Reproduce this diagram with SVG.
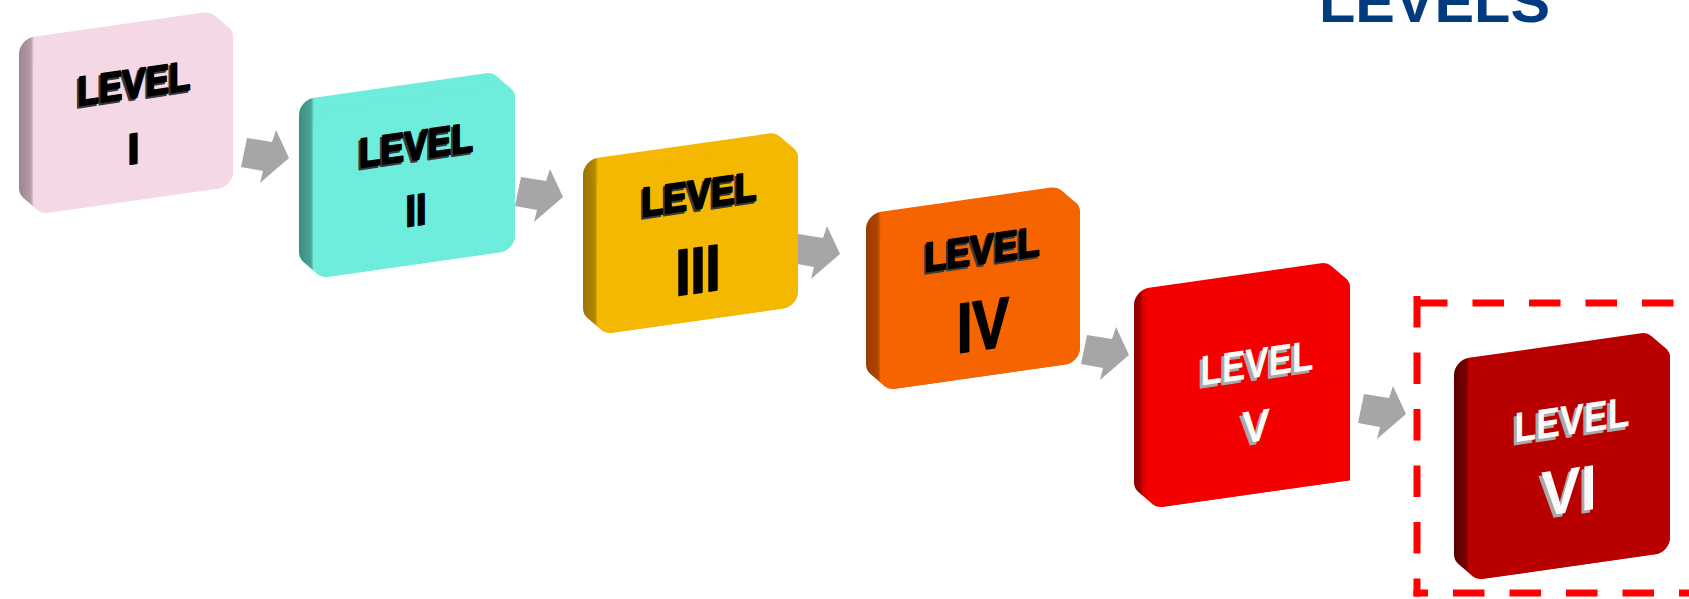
<svg xmlns="http://www.w3.org/2000/svg" xmlns:xlink="http://www.w3.org/1999/xlink" width="1689" height="599" viewBox="0 0 1689 599">
<style>
.t{font-family:"Liberation Sans",Arial,sans-serif;font-weight:bold;text-anchor:middle}
.bk{fill:#000;stroke:#000;stroke-width:2;stroke-linejoin:round}
.bks{fill:#3a3a3a;stroke:#3a3a3a;stroke-width:2;stroke-linejoin:round}
.wt{fill:#fafafa}
.wts{fill:#a9a9a9}
.arr{fill:#a6a6a6}
.dash{fill:none;stroke:#ff0000;stroke-width:7;stroke-dasharray:31.5 25}
</style>
<defs>
<path id="arrow" d="M0,0 L25,4 L29,-8 L42,20 L13,45 L16,33 L-6,29 Z"/>
<linearGradient id="g1" gradientUnits="userSpaceOnUse" x1="-14" y1="0" x2="1" y2="0"><stop offset="0" stop-color="#9a8690"/><stop offset="0.8" stop-color="#b89cab"/><stop offset="1" stop-color="#f4d8e6"/></linearGradient>
<linearGradient id="g2" gradientUnits="userSpaceOnUse" x1="-14" y1="0" x2="1" y2="0"><stop offset="0" stop-color="#3a8f86"/><stop offset="0.8" stop-color="#48a498"/><stop offset="1" stop-color="#6eecdc"/></linearGradient>
<linearGradient id="g3" gradientUnits="userSpaceOnUse" x1="-14" y1="0" x2="1" y2="0"><stop offset="0" stop-color="#9c7400"/><stop offset="0.8" stop-color="#b48700"/><stop offset="1" stop-color="#f5b800"/></linearGradient>
<linearGradient id="g4" gradientUnits="userSpaceOnUse" x1="-14" y1="0" x2="1" y2="0"><stop offset="0" stop-color="#9a3c00"/><stop offset="0.8" stop-color="#ae4600"/><stop offset="1" stop-color="#f66400"/></linearGradient>
<linearGradient id="g5" gradientUnits="userSpaceOnUse" x1="-14" y1="0" x2="1" y2="0"><stop offset="0" stop-color="#8e0000"/><stop offset="0.45" stop-color="#a00000"/><stop offset="0.55" stop-color="#d60000"/><stop offset="1" stop-color="#f50000"/></linearGradient>
<linearGradient id="g6" gradientUnits="userSpaceOnUse" x1="-14" y1="0" x2="1" y2="0"><stop offset="0" stop-color="#5e0000"/><stop offset="0.8" stop-color="#760000"/><stop offset="1" stop-color="#b80000"/></linearGradient>
</defs>
<rect width="1689" height="599" fill="#ffffff"/>

<g id="title">
<text x="1319" y="22" font-family="Liberation Sans, Arial, sans-serif" font-weight="bold" font-size="58" fill="#003a7f" textLength="231" lengthAdjust="spacingAndGlyphs">LEVELS</text>
</g>

<g id="connectors" class="arr">
<use xlink:href="#arrow" x="247" y="138"/>
<use xlink:href="#arrow" x="521" y="177"/>
<use xlink:href="#arrow" x="798" y="234"/>
<use xlink:href="#arrow" x="1087" y="335"/>
<use xlink:href="#arrow" x="1364" y="394"/>
</g>

<g id="level1" transform="translate(33,51) skewY(-8.13)">
<path fill="url(#g1)" d="M-14,1 A15,15 0 0 1 1,-14 L171,-14 A15,15 0 0 1 181.6,-9.6 L195.6,4.4 A15,15 0 0 1 200,15 L200,149 A15,15 0 0 1 185,164 L15,164 A15,15 0 0 1 4.4,159.6 L-9.6,145.6 A15,15 0 0 1 -14,135 Z"/>
<rect x="0" y="0" width="200" height="164" rx="15" fill="#f4d8e6"/>
<text class="t bks" x="99" y="63" font-size="41" textLength="113" lengthAdjust="spacingAndGlyphs">LEVEL</text>
<text class="t bk" x="101" y="61" font-size="41" textLength="113" lengthAdjust="spacingAndGlyphs">LEVEL</text>
<text class="t bk" x="100.5" y="127" font-size="43">I</text>
</g>

<g id="level2" transform="translate(313,112) skewY(-8.13)">
<path fill="url(#g2)" d="M-14,1 A15,15 0 0 1 1,-14 L173,-14 A15,15 0 0 1 183.6,-9.6 L197.6,4.4 A15,15 0 0 1 202,15 L202,152 A15,15 0 0 1 187,167 L15,167 A15,15 0 0 1 4.4,162.6 L-9.6,148.6 A15,15 0 0 1 -14,138 Z"/>
<rect x="0" y="0" width="202" height="167" rx="15" fill="#6eecdc"/>
<text class="t bks" x="101" y="64" font-size="41" textLength="114" lengthAdjust="spacingAndGlyphs">LEVEL</text>
<text class="t bk" x="103" y="62" font-size="41" textLength="114" lengthAdjust="spacingAndGlyphs">LEVEL</text>
<text class="t bk" x="103" y="128" font-size="44" textLength="21" lengthAdjust="spacingAndGlyphs">II</text>
</g>

<g id="level3" transform="translate(597,172) skewY(-8.13)">
<path fill="url(#g3)" d="M-14,1 A15,15 0 0 1 1,-14 L172,-14 A15,15 0 0 1 182.6,-9.6 L196.6,4.4 A15,15 0 0 1 201,15 L201,148 A15,15 0 0 1 186,163 L15,163 A15,15 0 0 1 4.4,158.6 L-9.6,144.6 A15,15 0 0 1 -14,134 Z"/>
<rect x="0" y="0" width="201" height="163" rx="15" fill="#f5b800"/>
<text class="t bks" x="100" y="53" font-size="41" textLength="115" lengthAdjust="spacingAndGlyphs">LEVEL</text>
<text class="t bk" x="102" y="51" font-size="41" textLength="115" lengthAdjust="spacingAndGlyphs">LEVEL</text>
<text class="t bk" x="101" y="135" font-size="65" textLength="45" lengthAdjust="spacingAndGlyphs">III</text>
</g>

<g id="level4" transform="translate(880,226) skewY(-8.13)">
<path fill="url(#g4)" d="M-14,1 A15,15 0 0 1 1,-14 L171,-14 A15,15 0 0 1 181.6,-9.6 L195.6,4.4 A15,15 0 0 1 200,15 L200,150 A15,15 0 0 1 185,165 L15,165 A15,15 0 0 1 4.4,160.6 L-9.6,146.6 A15,15 0 0 1 -14,136 Z"/>
<rect x="0" y="0" width="200" height="165" rx="15" fill="#f66400"/>
<text class="t bks" x="100" y="54" font-size="41" textLength="115" lengthAdjust="spacingAndGlyphs">LEVEL</text>
<text class="t bk" x="102" y="52" font-size="41" textLength="115" lengthAdjust="spacingAndGlyphs">LEVEL</text>
<text class="t bk" x="103" y="138" font-size="70" textLength="52" lengthAdjust="spacingAndGlyphs">IV</text>
</g>

<g id="level5" transform="translate(1148,302) skewY(-8.13)">
<path fill="url(#g5)" d="M-14,1 A15,15 0 0 1 1,-14 L173,-14 A15,15 0 0 1 183.6,-9.6 L197.6,4.4 A15,15 0 0 1 202,15 L202,207 L15,207 A15,15 0 0 1 4.4,202.6 L-9.6,188.6 A15,15 0 0 1 -14,178 Z"/>
<path fill="#f50000" d="M15,0 H187 A15,15 0 0 1 202,15 V207 H15 A15,15 0 0 1 0,192 V15 A15,15 0 0 1 15,0 Z"/>
<text class="t wts" x="106" y="94" font-size="42" textLength="113" lengthAdjust="spacingAndGlyphs">LEVEL</text>
<text class="t wt" x="109" y="91" font-size="42" textLength="113" lengthAdjust="spacingAndGlyphs">LEVEL</text>
<text class="t wts" x="105" y="158" font-size="45" textLength="28" lengthAdjust="spacingAndGlyphs">V</text>
<text class="t wt" x="108" y="155" font-size="45" textLength="28" lengthAdjust="spacingAndGlyphs">V</text>
</g>

<g id="highlight">
<path class="dash" d="M1416,303 H1689"/>
<path class="dash" d="M1417,296 V596.5"/>
<path class="dash" d="M1413.5,593 H1689" stroke-dashoffset="17"/>
</g>

<g id="level6" transform="translate(1468,372) skewY(-8.13)">
<path fill="url(#g6)" d="M-14,1 A15,15 0 0 1 1,-14 L173,-14 A15,15 0 0 1 183.6,-9.6 L197.6,4.4 A15,15 0 0 1 202,15 L202,194 A15,15 0 0 1 187,209 L15,209 A15,15 0 0 1 4.4,204.6 L-9.6,190.6 A15,15 0 0 1 -14,180 Z"/>
<rect x="0" y="0" width="202" height="209" rx="15" fill="#b80000"/>
<text class="t wts" x="101" y="80" font-size="42" textLength="115" lengthAdjust="spacingAndGlyphs">LEVEL</text>
<text class="t wt" x="104" y="77" font-size="42" textLength="115" lengthAdjust="spacingAndGlyphs">LEVEL</text>
<text class="t wts" x="98" y="158" font-size="64" textLength="56" lengthAdjust="spacingAndGlyphs">VI</text>
<text class="t wt" x="101" y="155" font-size="64" textLength="56" lengthAdjust="spacingAndGlyphs">VI</text>
</g>
</svg>
